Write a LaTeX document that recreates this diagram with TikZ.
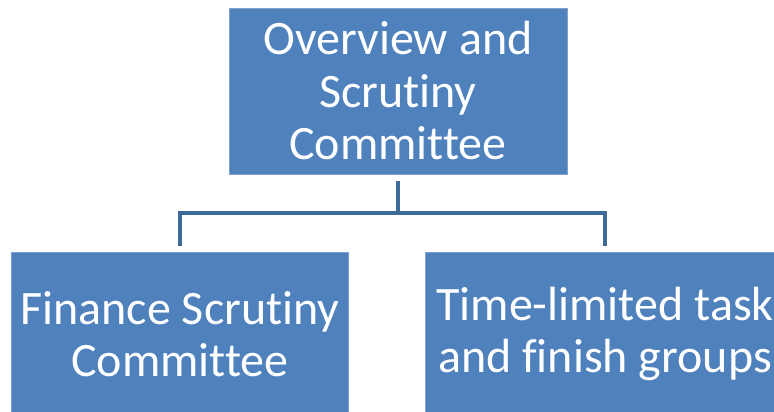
\documentclass[tikz,border=0pt]{standalone}
\usepackage{fontspec}
\setmainfont{Carlito}[Ligatures=NoCommon]
\definecolor{boxblue}{HTML}{4F81BD}
\definecolor{boxedge}{HTML}{7FA1CF}
\definecolor{linkblue}{HTML}{3E6A9A}
\begin{document}
\begin{tikzpicture}[x=1pt,y=-1pt,
  orgbox/.style={rectangle, fill=boxblue, draw=boxedge, line width=0.8pt,
    text=white, align=center, inner sep=0pt, outer sep=6.5pt,
    font=\fontsize{48}{52.5}\selectfont},
  link/.style={draw=linkblue, line width=4pt}]
\useasboundingbox (0,0) rectangle (774,412);
\clip (0,0) rectangle (774,412);
\fill[white] (0,0) rectangle (774,412);
\node[orgbox, minimum width=338pt, minimum height=166pt] (top) at (398,91)
  {Overview and\\Scrutiny\\Committee};
\node[orgbox, minimum width=337pt, minimum height=164pt] (fin) at (180,334)
  {Finance Scrutiny\\Committee};
\node[orgbox, minimum width=360pt, minimum height=164pt] (tfg) at (605,334)
  {Time-limited task\\and finish groups};
\coordinate (mid) at (398,213);
\draw[link] (top.south) -- (mid);
\draw[link] (fin.north) -- (fin.north |- mid) -- (tfg.north |- mid) -- (tfg.north);
\end{tikzpicture}
\end{document}
